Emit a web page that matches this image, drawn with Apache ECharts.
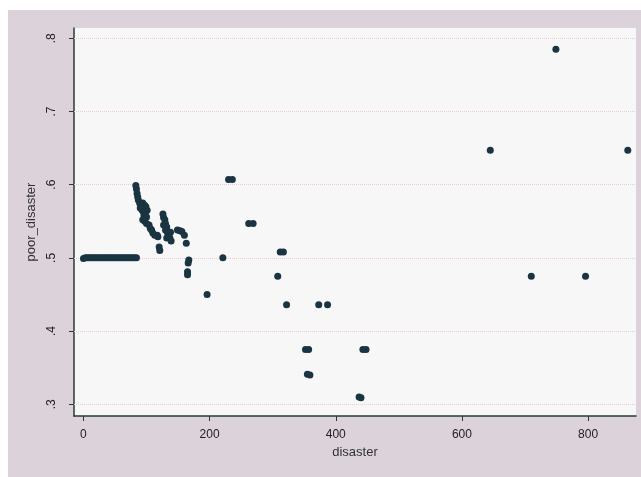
<!DOCTYPE html>
<html>
<head>
<meta charset="utf-8">
<script src="https://cdn.jsdelivr.net/npm/echarts@6/dist/echarts.min.js"></script>
<style>
html,body{margin:0;padding:0;background:#ffffff;}
#chart{width:641px;height:477px;}
</style>
</head>
<body>
<div id="chart"></div>
<script>
// x values (disaster)
var disaster = [
  0,3,6,9,12,15,18,21,24,27,30,33,36,39,42,45,48,51,54,57,60,63,66,69,72,75,78,81,84,
  83,84,85,86,87,89,91,94,97,90,93,95,99,98,100,94,97,100,104,106,108,110,113,117,101,96,118,
  120,121,
  126,127,129,130,127,132,130,133,135,137,132,139,138,
  149,153,156,160,163,167,166,165,165,
  196,221,230,236,262,269,312,317,308,322,373,387,
  352,357,359,355,443,448,440,437,
  645,749,710,796,863
];
// y values (poor_disaster)
var poorDisaster = [
  0.499,0.5,0.5,0.5,0.5,0.5,0.5,0.5,0.5,0.5,0.5,0.5,0.5,0.5,0.5,0.5,0.5,0.5,0.5,0.5,0.5,0.5,0.5,0.5,0.5,0.5,0.5,0.5,0.5,
  0.599,0.594,0.588,0.583,0.579,0.575,0.572,0.575,0.572,0.568,0.565,0.563,0.570,0.561,0.556,0.552,0.550,0.547,0.545,0.540,0.538,0.534,0.531,0.531,0.565,0.558,0.529,
  0.515,0.510,
  0.560,0.555,0.552,0.547,0.545,0.542,0.538,0.535,0.531,0.527,0.527,0.523,0.535,
  0.538,0.537,0.536,0.531,0.520,0.497,0.493,0.481,0.477,
  0.450,0.500,0.607,0.607,0.547,0.547,0.508,0.508,0.475,0.436,0.436,0.436,
  0.375,0.375,0.340,0.341,0.375,0.375,0.309,0.310,
  0.647,0.785,0.475,0.475,0.647
];
var xTicks = [0,200,400,600,800];
var yTicks = [0.3,0.4,0.5,0.6,0.7,0.8];
var xTitle = 'disaster';
var yTitle = 'poor_disaster';

var points = disaster.map(function(x,i){ return [x, poorDisaster[i]]; });

var chart = echarts.init(document.getElementById('chart'), null, {renderer:'canvas'});
var font = '"Liberation Sans", Arial, sans-serif';
chart.setOption({
  backgroundColor: '#ffffff',
  animation: false,
  graphic: [{
    type: 'rect', left: 8, top: 10, z: -10,
    shape: {width: 633, height: 467},
    style: {fill: '#dcd2da'}
  }],
  grid: {
    left: 74, top: 28, right: 5, bottom: 61,
    show: true, backgroundColor: '#f7f7f7', borderWidth: 0
  },
  xAxis: {
    type: 'value', min: -15, max: 876,
    name: xTitle, nameLocation: 'middle', nameGap: 28,
    nameTextStyle: {fontFamily: font, fontSize: 13, color: '#333'},
    axisLine: {show: true, onZero: false, lineStyle: {color: '#2a3a38', width: 1.5}},
    axisTick: {show: true, length: 5, customValues: xTicks, lineStyle: {color: '#2a3a38'}},
    axisLabel: {customValues: xTicks, fontFamily: font, fontSize: 12, color: '#222', margin: 13},
    splitLine: {show: false}
  },
  yAxis: {
    type: 'value', min: 0.284, max: 0.814,
    name: yTitle, nameLocation: 'middle', nameGap: 29,
    nameTextStyle: {fontFamily: font, fontSize: 13, color: '#333'},
    axisLine: {show: true, onZero: false, lineStyle: {color: '#2a3a38', width: 1.5}},
    axisTick: {show: true, length: 5, customValues: yTicks, lineStyle: {color: '#2a3a38'}},
    axisLabel: {
      customValues: yTicks, rotate: 90, fontFamily: font, fontSize: 12, color: '#222', margin: 16,
      formatter: function(v){ return String(Math.round(v*10)/10).replace(/^0/, ''); }
    },
    splitLine: {show: false}
  },
  series: [{
    type: 'scatter',
    data: points,
    symbol: 'circle',
    symbolSize: 7,
    itemStyle: {color: '#1a3442', opacity: 1},
    markLine: {
      silent: true, symbol: ['none','none'], label: {show: false},
      lineStyle: {color: '#eac8d4', type: 'dotted', width: 1},
      data: yTicks.map(function(v){ return {yAxis: v}; }),
      z: 1
    },
    z: 5
  }]
});
</script>
</body>
</html>
